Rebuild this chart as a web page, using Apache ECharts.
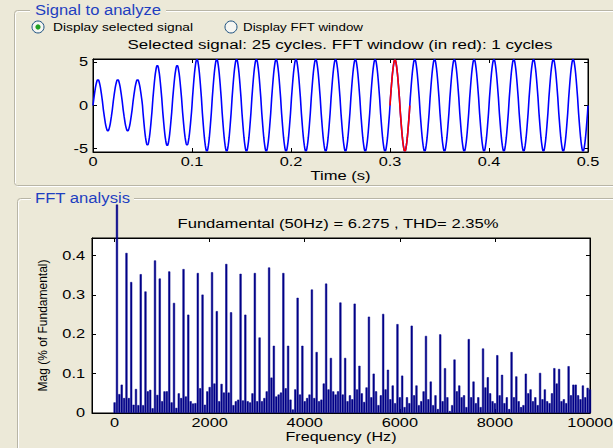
<!DOCTYPE html>
<html><head><meta charset="utf-8">
<script src="https://cdn.jsdelivr.net/npm/echarts@6/dist/echarts.min.js"></script>
<style>
html,body{margin:0;padding:0;background:#ECE9D8;overflow:hidden;}
#c{width:613px;height:448px;}
</style></head><body><div id="c"></div>
<script>
// ---------- data ----------
const timeTicks = [0, 0.1, 0.2, 0.3, 0.4, 0.5];
const signalTicks = [-5, 0, 5];
const halfCycleSeconds = 0.01;            // 50 Hz signal -> 10 ms per half cycle
// normalised profile of one half cycle (0.5 ms steps)
const halfCycleProfile = [0, 0.17, 0.31, 0.45, 0.58, 0.70, 0.80, 0.88, 0.95, 0.99,
                          1.0, 0.99, 0.95, 0.88, 0.80, 0.70, 0.58, 0.45, 0.31, 0.17];
// peak value of each half cycle (alternating +/-), 0 .. 0.5 s
const halfCyclePeaks = [3.0, 2.95, 3.0, 2.95, 3.0,
                        4.6, 4.65, 4.65, 4.65, 4.6,
                        5.35, 5.3, 5.35, 5.3, 5.35, 5.3, 5.35, 5.3, 5.35, 5.3,
                        5.35, 5.3, 5.35, 5.3, 5.35, 5.3, 5.35, 5.3, 5.35, 5.3,
                        5.3, 5.3, 5.35, 5.3, 5.35, 5.3, 5.35, 5.3, 5.35, 5.3,
                        5.35, 5.3, 5.35, 5.3, 5.35, 5.3, 5.35, 5.3, 5.35, 5.3];
const fftWindow = [0.30, 0.32];
const binWidthHz = 50;
const freqTicks = [0, 2000, 4000, 6000, 8000, 10000];
const magTicks = [0, 0.1, 0.2, 0.3, 0.4];
// magnitude of each 50 Hz bin, 0 .. 10000 Hz (fundamental shown clipped as drawn)
const fftMag = [
 0.027, 0.53, 0.048, 0.072, 0.038, 0.407, 0.038, 0.333, 0.021, 0.061,
 0.020, 0.353, 0.020, 0.309, 0.055, 0.059, 0.012, 0.388, 0.046, 0.342,
 0.030, 0.055, 0.055, 0.360, 0.027, 0.280, 0.013, 0.050, 0.038, 0.366,
 0.042, 0.250, 0.030, 0.024, 0.025, 0.356, 0.063, 0.301, 0.021, 0.055,
 0.066, 0.358, 0.075, 0.259, 0.030, 0.074, 0.052, 0.379, 0.052, 0.256,
 0.020, 0.030, 0.034, 0.354, 0.032, 0.250, 0.030, 0.027, 0.050, 0.356,
 0.030, 0.192, 0.030, 0.038, 0.055, 0.370, 0.090, 0.171, 0.042, 0.047,
 0.052, 0.356, 0.063, 0.171, 0.034, 0.009, 0.060, 0.293, 0.047, 0.171,
 0.030, 0.038, 0.047, 0.314, 0.038, 0.155, 0.030, 0.034, 0.075, 0.329,
 0.060, 0.140, 0.055, 0.047, 0.055, 0.281, 0.047, 0.140, 0.030, 0.045,
 0.035, 0.278, 0.060, 0.120, 0.050, 0.028, 0.065, 0.245, 0.040, 0.100,
 0.055, 0.020, 0.045, 0.252, 0.060, 0.110, 0.035, 0.070, 0.025, 0.226,
 0.040, 0.095, 0.015, 0.040, 0.025, 0.222, 0.045, 0.070, 0.020, 0.030,
 0.055, 0.196, 0.035, 0.080, 0.020, 0.045, 0.010, 0.200, 0.030, 0.114,
 0.040, 0.005, 0.020, 0.136, 0.055, 0.070, 0.040, 0.045, 0.015, 0.188,
 0.040, 0.080, 0.025, 0.040, 0.015, 0.164, 0.065, 0.091, 0.050, 0.030,
 0.025, 0.147, 0.045, 0.097, 0.025, 0.040, 0.010, 0.155, 0.040, 0.093,
 0.030, 0.015, 0.020, 0.100, 0.050, 0.060, 0.030, 0.040, 0.020, 0.102,
 0.035, 0.060, 0.030, 0.025, 0.050, 0.114, 0.075, 0.112, 0.030, 0.035,
 0.025, 0.119, 0.045, 0.072, 0.072, 0.045, 0.035, 0.070, 0.040, 0.064,
 0.060
];
const titleSignal = 'Selected signal: 25 cycles. FFT window (in red): 1 cycles';
const titleFFT = 'Fundamental (50Hz) = 6.275 , THD= 2.35%';

// ---------- build series data ----------
const signal = [];
halfCyclePeaks.forEach((pk, i) => {
  const sgn = i % 2 === 0 ? 1 : -1;
  halfCycleProfile.forEach((p, j) => {
    const t = i * halfCycleSeconds + j * halfCycleSeconds / halfCycleProfile.length;
    signal.push([+t.toFixed(5), +(sgn * pk * p).toFixed(3)]);
  });
});
signal.push([halfCyclePeaks.length * halfCycleSeconds, 0]);
const windowSignal = signal.filter(d => d[0] >= fftWindow[0] - 1e-9 && d[0] <= fftWindow[1] + 1e-9);
const fftData = fftMag.map((v, k) => [k * binWidthHz, v]);

// ---------- chart ----------
const FONT = 'Liberation Sans, Arial, sans-serif';
const BG = '#ECE9D8';
const lbl = (vals, extra) => Object.assign({customValues: vals, color: '#000', fontSize: 12, fontFamily: FONT, formatter: v => String(v)}, extra || {});
const tick = vals => ({show: true, inside: true, length: 4, customValues: vals, lineStyle: {color: '#000'}});
const line = {show: true, onZero: false, lineStyle: {color: '#000', width: 1}};

const chart = echarts.init(document.getElementById('c'), null, {renderer: 'svg'});
chart.setOption({
  animation: false,
  backgroundColor: BG,
  grid: [
    {left: 93, top: 59, width: 495, height: 93, show: true, backgroundColor: '#fff', borderColor: '#000', borderWidth: 1},
    {left: 92, top: 238, width: 498, height: 175, show: true, backgroundColor: '#fff', borderColor: '#000', borderWidth: 1}
  ],
  xAxis: [
    {gridIndex: 0, type: 'value', min: 0, max: 0.5, position: 'bottom', axisLine: line, axisTick: tick(timeTicks),
     axisLabel: lbl(timeTicks, {margin: 4}), splitLine: {show: false},
     name: 'Time (s)', nameLocation: 'middle', nameGap: 18, nameTextStyle: {color: '#000', fontSize: 12, fontFamily: FONT}},
    {gridIndex: 0, type: 'value', min: 0, max: 0.5, position: 'top', axisLine: line, axisTick: tick(timeTicks),
     axisLabel: {show: false}, splitLine: {show: false}},
    {gridIndex: 1, type: 'value', min: -475, max: 10000, position: 'bottom', axisLine: line, axisTick: tick(freqTicks),
     axisLabel: lbl(freqTicks, {margin: 4}), splitLine: {show: false},
     name: 'Frequency (Hz)', nameLocation: 'middle', nameGap: 18, nameTextStyle: {color: '#000', fontSize: 12, fontFamily: FONT}},
    {gridIndex: 1, type: 'value', min: -475, max: 10000, position: 'top', axisLine: line, axisTick: tick(freqTicks),
     axisLabel: {show: false}, splitLine: {show: false}}
  ],
  yAxis: [
    {gridIndex: 0, type: 'value', min: -5.4, max: 5.4, position: 'left', axisLine: line, axisTick: tick(signalTicks),
     axisLabel: lbl(signalTicks, {margin: 5}), splitLine: {show: false}},
    {gridIndex: 0, type: 'value', min: -5.4, max: 5.4, position: 'right', axisLine: line, axisTick: tick(signalTicks),
     axisLabel: {show: false}, splitLine: {show: false}},
    {gridIndex: 1, type: 'value', min: 0, max: 0.445, position: 'left', axisLine: line, axisTick: tick(magTicks),
     axisLabel: lbl(magTicks, {margin: 7}), splitLine: {show: false},
     name: 'Mag (% of Fundamental)', nameLocation: 'middle', nameGap: 43, nameTextStyle: {color: '#000', fontSize: 12, fontFamily: FONT}},
    {gridIndex: 1, type: 'value', min: 0, max: 0.445, position: 'right', axisLine: line, axisTick: tick(magTicks),
     axisLabel: {show: false}, splitLine: {show: false}}
  ],
  series: [
    {type: 'line', xAxisIndex: 0, yAxisIndex: 0, data: signal, showSymbol: false, silent: true,
     lineStyle: {color: '#0000FF', width: 1.6}, z: 3},
    {type: 'line', xAxisIndex: 0, yAxisIndex: 0, data: windowSignal, showSymbol: false, silent: true,
     lineStyle: {color: '#FF0000', width: 1.6}, z: 4},
    {type: 'bar', xAxisIndex: 2, yAxisIndex: 2, data: fftData, barWidth: 2.1, clip: false, silent: true,
     itemStyle: {color: '#000088', borderColor: '#000088', borderWidth: 0.5}, z: 3}
  ],
  graphic: [
    // signal panel frame
    {type: 'rect', silent: true, z: 1, shape: {x: 15.5, y: 11.5, width: 640, height: 175, r: 3}, style: {fill: 'none', stroke: '#FFFFFF', lineWidth: 1}},
    {type: 'rect', silent: true, z: 1, shape: {x: 14.5, y: 10.5, width: 640, height: 175, r: 3}, style: {fill: 'none', stroke: '#B8B5A6', lineWidth: 1}},
    {type: 'rect', silent: true, z: 2, shape: {x: 30, y: 2, width: 136, height: 17}, style: {fill: BG}},
    {type: 'text', silent: true, z: 3, x: 35, y: 10, style: {text: 'Signal to analyze', fontSize: 14, fontFamily: FONT, fill: '#1F3FC0', align: 'left', verticalAlign: 'middle'}},
    // radio buttons
    {type: 'circle', silent: true, z: 3, shape: {cx: 38, cy: 27, r: 6}, style: {fill: '#F6F6F2', stroke: '#1C5180', lineWidth: 1}},
    {type: 'circle', silent: true, z: 4, shape: {cx: 38, cy: 27, r: 2.6}, style: {fill: '#21A121'}},
    {type: 'text', silent: true, z: 3, x: 53, y: 27, style: {text: 'Display selected signal', fontSize: 11, fontFamily: FONT, fill: '#000', align: 'left', verticalAlign: 'middle'}},
    {type: 'circle', silent: true, z: 3, shape: {cx: 231, cy: 27, r: 6}, style: {fill: '#F6F6F2', stroke: '#1C5180', lineWidth: 1}},
    {type: 'text', silent: true, z: 3, x: 243, y: 27, style: {text: 'Display FFT window', fontSize: 11, fontFamily: FONT, fill: '#000', align: 'left', verticalAlign: 'middle'}},
    {type: 'text', silent: true, z: 3, x: 340, y: 45, style: {text: titleSignal, fontSize: 12, fontFamily: FONT, fill: '#000', align: 'center', verticalAlign: 'middle'}},
    // FFT panel frame
    {type: 'rect', silent: true, z: 1, shape: {x: 18.5, y: 199.5, width: 640, height: 300, r: 3}, style: {fill: 'none', stroke: '#FFFFFF', lineWidth: 1}},
    {type: 'rect', silent: true, z: 1, shape: {x: 17.5, y: 198.5, width: 640, height: 300, r: 3}, style: {fill: 'none', stroke: '#B8B5A6', lineWidth: 1}},
    {type: 'rect', silent: true, z: 2, shape: {x: 31, y: 190, width: 103, height: 17}, style: {fill: BG}},
    {type: 'text', silent: true, z: 3, x: 35, y: 198, style: {text: 'FFT analysis', fontSize: 14, fontFamily: FONT, fill: '#1F3FC0', align: 'left', verticalAlign: 'middle'}},
    {type: 'text', silent: true, z: 3, x: 338, y: 224, style: {text: titleFFT, fontSize: 12, fontFamily: FONT, fill: '#000', align: 'center', verticalAlign: 'middle'}}
  ]
});

// the reference screenshot is horizontally stretched: widen horizontal texts to match
const targetWidths = {
  'Signal to analyze': 126, 'FFT analysis': 95,
  'Display selected signal': 140, 'Display FFT window': 120,
  'Time (s)': 60, 'Frequency (Hz)': 111
};
targetWidths[titleSignal] = 425;
targetWidths[titleFFT] = 321;
function stretchTexts() {
  document.querySelectorAll('#c svg text').forEach(t => {
    if (t.getAttribute('data-st')) return;
    const tr = t.getAttribute('transform') || '';
    const m = tr.match(/matrix\(([^)]+)\)/);
    if (m) {
      const p = m[1].split(/[ ,]+/).map(Number);
      if (Math.abs(p[1]) > 1e-3) return; // rotated text keeps its length
    }
    const len = t.getComputedTextLength();
    if (!len) return;
    const key = t.textContent;
    const w = targetWidths[key] || len * 1.36;
    t.setAttribute('textLength', w.toFixed(1));
    t.setAttribute('lengthAdjust', 'spacingAndGlyphs');
    t.setAttribute('data-st', '1');
  });
}
stretchTexts();
chart.on('finished', stretchTexts);
setTimeout(stretchTexts, 0);
</script>
</body></html>
